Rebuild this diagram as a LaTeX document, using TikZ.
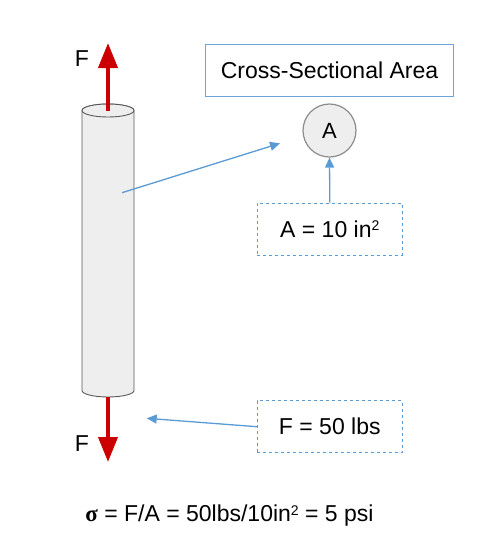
\documentclass[tikz,border=0pt]{standalone}
\usepackage{fontspec}
\setmainfont{Liberation Sans}
\newfontfamily\sigmaFont{Liberation Serif}
\usetikzlibrary{arrows.meta}
\definecolor{forceRed}{RGB}{204,0,0}
\definecolor{labelBlue}{RGB}{91,155,213}
\definecolor{barGray}{RGB}{238,238,238}
\newcommand{\forceColor}{forceRed}
\newcommand{\labelColor}{labelBlue}
\newcommand{\squared}{\raisebox{6.5pt}{\fontsize{14}{14}\selectfont 2}}

\begin{document}
\begin{tikzpicture}[
            x=1pt, y=-1pt,
            every node/.append style={font=\fontsize{23}{27}\selectfont, inner sep=0pt},
            bar/.style={fill=barGray, draw=black!65, line width=0.9pt},
            force/.style={draw=\forceColor, line width=4pt, -{Triangle[length=25pt, width=19pt]}},
            pointer/.style={draw=\labelColor, line width=1.3pt, -{Triangle[length=10pt, width=9pt]}},
            titleBox/.style={draw=\labelColor!90, line width=1pt, minimum width=248pt, minimum height=52pt},
            valueBox/.style={draw=\labelColor, line width=1pt, dash pattern=on 3pt off 3pt, minimum width=145pt, minimum height=52pt},
            areaCircle/.style={circle, fill=barGray, draw=black!45, line width=1.2pt, minimum size=53pt, font=\fontsize{22}{26}\selectfont}
        ]
        \useasboundingbox (0,0) rectangle (500,550);
        \filldraw[bar] (82,110.5) -- (82,390.5) arc[start angle=180, end angle=360, x radius=26pt, y radius=6.5pt]
            -- (134,110.5) arc[start angle=0, end angle=180, x radius=26pt, y radius=6.5pt] -- cycle;
        \filldraw[bar] (108,110.5) ellipse[x radius=26pt, y radius=6.5pt];

        \coordinate (barTop) at (108,110.5);
        \coordinate (barBottom) at (108,397);
        \coordinate (pullUp) at (108,43);
        \coordinate (pullDown) at (108,462);
        \coordinate (barSide) at (122,192.7);
        \coordinate (sectionPoint) at (280,143.3);
        \coordinate (barEnd) at (146.7,418.3);

        \node (forceTop) at (82,59) {F};
        \node (forceBottom) at (82,443.5) {F};
        \node[titleBox] (title) at (329.5,70) {Cross-Sectional Area};
        \node[areaCircle] (area) at (329.5,130.5) {A};
        \node[valueBox] (areaValue) at (329.8,229) {A = 10 in\squared};
        \node[valueBox] (forceValue) at (329.8,426.7) {F = 50 lbs};
        \node (stress) at (229.5,516) {{\sigmaFont\bfseries σ} = F/A = 50lbs/10in\squared{} = 5 psi};

        \draw[force] (barTop) -- (pullUp);
        \draw[force] (barBottom) -- (pullDown);
        \draw[pointer] (barSide) -- (sectionPoint);
        \draw[pointer] (areaValue.north) -- (area.south);
        \draw[pointer] (forceValue.west) -- (barEnd);
    \end{tikzpicture}
\end{document}
